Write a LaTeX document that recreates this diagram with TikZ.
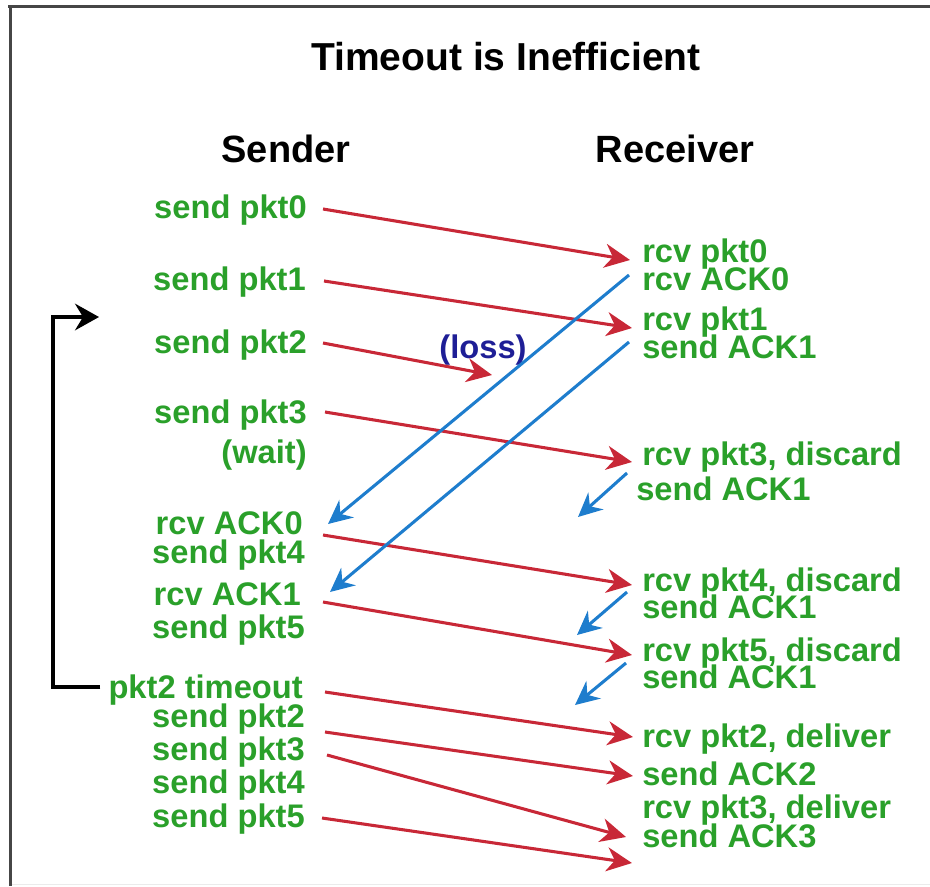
\documentclass[tikz,border=0pt]{standalone}
\usepackage{fontspec}
\setmainfont{Liberation Sans}
\usetikzlibrary{arrows.meta,calc}
\definecolor{lblgreen}{RGB}{42,160,42}
\definecolor{arrred}{RGB}{200,40,55}
\definecolor{arrblue}{RGB}{30,125,205}
\definecolor{lossblue}{RGB}{30,30,150}
\definecolor{framegray}{RGB}{70,70,70}
\begin{document}
\begin{tikzpicture}[x=0.75pt,y=-0.75pt,
  lbl/.style={font=\fontsize{24.5}{28}\selectfont\bfseries, text=lblgreen, inner sep=0pt},
  lft/.style={lbl, anchor=base east},
  rgt/.style={lbl, anchor=base west},
  headtxt/.style={font=\fontsize{28.5}{32}\selectfont\bfseries, inner sep=0pt, anchor=base},
  pktarrow/.style={draw=arrred, line width=2.3pt, -{Stealth[length=19pt,width=18pt,inset=6pt]}},
  ackarrow/.style={draw=arrblue, line width=2.3pt, -{Stealth[length=18pt,width=17pt,inset=6pt]}},
  looparrow/.style={draw=black, line width=2.3pt, -{Stealth[length=18pt,width=20pt,inset=6pt]}},
]
\useasboundingbox (0,0) rectangle (930,886);
% frame
\draw[framegray, line width=2.6pt] (8,6.5) -- (930,6.5);
\draw[framegray, line width=2.8pt] (10.5,5) -- (10.5,886);
\draw[black!8, line width=1pt] (12,884.5) -- (930,884.5);

% headings
\node[headtxt, font=\fontsize{29.25}{33}\selectfont\bfseries] (title) at (506,70) {Timeout is Inefficient};
\node[headtxt] (sender) at (286,162) {Sender};
\node[headtxt] (receiver) at (675,162) {Receiver};

% sender column
\node[lft] (s0) at (307,218) {send pkt0};
\node[lft] (s1) at (306,290) {send pkt1};
\node[lft] (s2) at (307,353) {send pkt2};
\node[lft] (s3) at (307,423) {send pkt3};
\node[lft] (wait) at (307,463) {(wait)};
\node[lft] (ra0) at (303,534) {rcv ACK0};
\node[lft] (s4) at (305,563) {send pkt4};
\node[lft] (ra1) at (301,605) {rcv ACK1};
\node[lft] (s5) at (305,638) {send pkt5};
\node[lft] (to) at (303,698) {pkt2 timeout};
\node[lft] (t2) at (305,727) {send pkt2};
\node[lft] (t3) at (305,760) {send pkt3};
\node[lft] (t4) at (305,793) {send pkt4};
\node[lft] (t5) at (305,827) {send pkt5};

% receiver column
\node[rgt] (r0) at (642,262) {rcv pkt0};
\node[rgt] (rack0) at (642,290) {rcv ACK0};
\node[rgt] (r1) at (642,330) {rcv pkt1};
\node[rgt] (sa1) at (642,358) {send ACK1};
\node[rgt] (r3) at (642,465) {rcv pkt3, discard};
\node[rgt] (sa1b) at (636,500) {send ACK1};
\node[rgt] (r4) at (642,591) {rcv pkt4, discard};
\node[rgt] (sa1c) at (642,618) {send ACK1};
\node[rgt] (r5) at (642,661) {rcv pkt5, discard};
\node[rgt] (sa1d) at (642,688) {send ACK1};
\node[rgt] (d2) at (642,747) {rcv pkt2, deliver};
\node[rgt] (sa2) at (642,785) {send ACK2};
\node[rgt] (d3) at (642,818) {rcv pkt3, deliver};
\node[rgt] (sa3) at (642,847) {send ACK3};

\node[lbl, text=lossblue, anchor=base] (loss) at (483,358) {(loss)};

% free ends
\coordinate (lost) at (492,375);
\coordinate (p5end) at (632,863);
\coordinate (a3end) at (578,517);
\coordinate (a4end) at (577,635);
\coordinate (a5end) at (575,705);
\coordinate (loopin) at (99,317);

% packet arrows (red)
\draw[pktarrow] ($(s0.base east)+(16,-9)$) -- ($(r0.base west)+(-12,-2)$);
\draw[pktarrow] ($(s1.base east)+(18,-9)$) -- ($(r1.base west)+(-10,-2)$);
\draw[pktarrow] ($(s2.base east)+(16,-10)$) -- (lost);
\draw[pktarrow] ($(s3.base east)+(18,-11)$) -- ($(r3.base west)+(-10,-3)$);
\draw[pktarrow] ($(ra0.base east)+(20,1)$) -- ($(r4.base west)+(-10,-6)$);
\draw[pktarrow] ($(ra1.base east)+(22,-3)$) -- ($(r5.base west)+(-10,-6)$);
\draw[pktarrow] ($(to.base east)+(22,-6)$) -- ($(d2.base west)+(-9,-10)$);
\draw[pktarrow] ($(t2.base east)+(20,5)$) -- ($(sa2.base west)+(-9,-9)$);
\draw[pktarrow] ($(t3.base east)+(22,-5)$) -- ($(sa3.base west)+(-16,-10)$);
\draw[pktarrow] ($(t5.base east)+(17,-9)$) -- (p5end);

% ack arrows (blue)
\draw[ackarrow] ($(rack0.base west)+(-13,-15)$) -- ($(ra0.base east)+(25,-10)$);
\draw[ackarrow] ($(sa1.base west)+(-13,-16)$) -- ($(ra1.base east)+(29,-13)$);
\draw[ackarrow] ($(r3.base west)+(-15,8)$) -- (a3end);
\draw[ackarrow] ($(r4.base west)+(-15,1)$) -- (a4end);
\draw[ackarrow] ($(r5.base west)+(-16,2)$) -- (a5end);

% timeout loop
\draw[looparrow] ($(to.base west)+(-8,-11)$) -- (53,687) -- (53,317) -- (loopin);
\end{tikzpicture}
\end{document}
